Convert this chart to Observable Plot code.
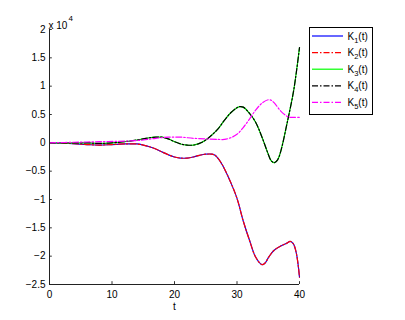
<!DOCTYPE html>
<html>
<head>
<meta charset="utf-8">
<script src="https://cdn.jsdelivr.net/npm/d3@7"></script>
<script src="https://cdn.jsdelivr.net/npm/@observablehq/plot@0.6"></script>
<style>
  html, body { margin: 0; padding: 0; background: #fff; }
  svg text { font-family: "Liberation Sans", Arial, Helvetica, sans-serif; }
</style>
</head>
<body>
<div id="chart"></div>
<script>
// Values in units of 10^4
const tA = [0,3,6,8,10,12,14,15,16,17,18,19,20,21,22,23,24,25,26,26.5,27,27.5,28,29,30,31,32,33,34,34.5,35,35.5,36,37,38,38.5,39,39.5,40];
const k1 = [0,-0.01,-0.03,-0.04,-0.03,-0.02,-0.02,-0.04,-0.07,-0.11,-0.16,-0.21,-0.25,-0.27,-0.27,-0.25,-0.22,-0.2,-0.2,-0.22,-0.28,-0.36,-0.46,-0.7,-0.98,-1.38,-1.72,-2.02,-2.15,-2.12,-2.03,-1.95,-1.89,-1.82,-1.77,-1.74,-1.78,-1.95,-2.37];
const k2 = [0,-0.01,-0.03,-0.04,-0.03,-0.02,-0.02,-0.04,-0.07,-0.11,-0.16,-0.21,-0.25,-0.27,-0.27,-0.25,-0.22,-0.2,-0.2,-0.22,-0.28,-0.36,-0.46,-0.7,-0.98,-1.38,-1.72,-2.02,-2.15,-2.12,-2.03,-1.95,-1.89,-1.82,-1.77,-1.74,-1.78,-1.95,-2.37];

const tB = [0,3,6,8,10,12,14,16,17,18,19,20,21,22,23,24,25,26,27,28,29,30,30.5,31,32,33,34,35,35.5,36,36.5,37,38,39,39.5,40];
const k3 = [0,0,0,-0.01,0,0.02,0.05,0.09,0.1,0.1,0.07,0.02,-0.02,-0.04,-0.04,-0.01,0.05,0.14,0.25,0.4,0.53,0.62,0.64,0.63,0.52,0.36,0.1,-0.2,-0.32,-0.35,-0.3,-0.15,0.34,0.88,1.25,1.68];
const k4 = [0,0,0,-0.01,0,0.02,0.05,0.09,0.1,0.1,0.07,0.02,-0.02,-0.04,-0.04,-0.01,0.05,0.14,0.25,0.4,0.53,0.62,0.64,0.63,0.52,0.36,0.1,-0.2,-0.32,-0.35,-0.3,-0.15,0.34,0.88,1.25,1.68];

const tC = [0,4,8,12,15,17,19,21,23,25,27,28,29,30,31,32,33,34,35,35.5,36,37,38,38.5,39,40];
const k5 = [0,0.01,0.02,0.03,0.05,0.08,0.1,0.1,0.08,0.07,0.06,0.06,0.09,0.15,0.27,0.42,0.58,0.7,0.76,0.75,0.7,0.56,0.47,0.45,0.45,0.45];

const xTicks = [0,10,20,30,40];
const yTicks = [2,1.5,1,0.5,0,-0.5,-1,-1.5,-2,-2.5];
const xLabel = "t";
const expBase = "x 10";
const expPow = "4";

const seriesNames = ["1","2","3","4","5"];
const seriesColors = ["#0000ff","#ff0000","#00ff00","#000000","#ff00ff"];
const seriesDash = [null,"6,2,1.5,2",null,"6,2,1.5,2","6,2,1.5,2"];

const fmt = d => String(d).replace("-", "\u2212");
const font = "Liberation Sans, Arial, Helvetica, sans-serif";

const lineOpts = (i) => ({
  stroke: seriesColors[i],
  strokeWidth: 1.2,
  curve: "catmull-rom",
  ...(seriesDash[i] ? {strokeDasharray: seriesDash[i]} : {})
});

const chart = Plot.plot({
  width: 405,
  height: 320,
  marginLeft: 49,
  marginRight: 106,
  marginTop: 29,
  marginBottom: 36,
  x: {domain: [0, 40]},
  y: {domain: [-2.5, 2]},
  style: {fontFamily: font, fontSize: "10px", color: "#000", background: "#fff"},
  marks: [
    Plot.axisX(xTicks, {tickSize: 0, tickPadding: 6, label: null, tickFormat: fmt, fill: "#000"}),
    Plot.axisY(yTicks, {tickSize: 0, tickPadding: 4, label: null, tickFormat: fmt, fill: "#000"}),
    Plot.ruleY(yTicks, {x1: 0, x2: 0.45, stroke: "#333"}),
    Plot.ruleX(xTicks, {y1: -2.5, y2: -2.45, stroke: "#333"}),
    Plot.line(k1, {x: tA, y: k1, ...lineOpts(0)}),
    Plot.line(k2, {x: tA, y: k2, ...lineOpts(1)}),
    Plot.line(k3, {x: tB, y: k3, ...lineOpts(2)}),
    Plot.line(k4, {x: tB, y: k4, ...lineOpts(3)}),
    Plot.line(k5, {x: tC, y: k5, ...lineOpts(4)}),
    Plot.ruleX([0], {stroke: "#222"}),
    Plot.ruleY([-2.5], {stroke: "#222"}),
    Plot.text([xLabel], {x: 20, frameAnchor: "bottom", dy: 25, text: d => d, fill: "#000", fontSize: 10}),
    Plot.text([expBase], {frameAnchor: "top-left", dx: -1, dy: -8, textAnchor: "start", text: d => d, fill: "#000", fontSize: 10}),
    Plot.text([expPow], {frameAnchor: "top-left", dx: 19, dy: -14, textAnchor: "start", text: d => d, fill: "#000", fontSize: 8})
  ]
});

document.getElementById("chart").appendChild(chart);

// Legend
const svg = d3.select(chart);
const lg = svg.append("g").attr("font-family", font).attr("font-size", 10).attr("text-anchor", "start");
lg.append("rect").attr("x", 309.5).attr("y", 27.5).attr("width", 63).attr("height", 87)
  .attr("fill", "#fff").attr("stroke", "#000").attr("stroke-width", 1);
seriesNames.forEach((n, i) => {
  const y = 36 + i * 16.6;
  const l = lg.append("line").attr("x1", 312).attr("x2", 343).attr("y1", y).attr("y2", y)
    .attr("stroke", seriesColors[i]).attr("stroke-width", 1.2);
  if (seriesDash[i]) l.attr("stroke-dasharray", seriesDash[i]);
  const t = lg.append("text").attr("x", 347.5).attr("y", y + 3.5).attr("fill", "#000")
    .attr("text-anchor", "start");
  t.append("tspan").text("K");
  t.append("tspan").attr("dy", 3).attr("font-size", 7.5).text(n);
  t.append("tspan").attr("dy", -3).text("(t)");
});
</script>
</body>
</html>
